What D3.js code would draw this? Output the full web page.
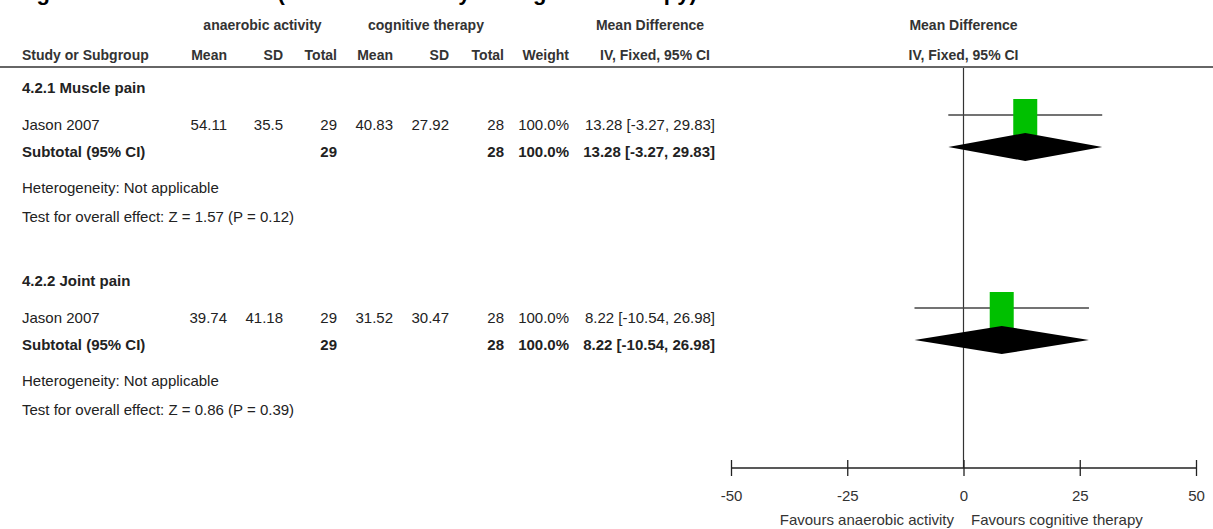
<!DOCTYPE html>
<html>
<head>
<meta charset="utf-8">
<script src="https://cdn.jsdelivr.net/npm/d3@7"></script>
<style>
  html, body { margin: 0; padding: 0; background: #fff; }
  svg { display: block; font-family: "Liberation Sans", Arial, Helvetica, sans-serif; }
</style>
</head>
<body>
<svg id="chart" width="1213" height="529"></svg>
<script>
// ---------------- data ----------------
const titleText = "Figure 4.2 Pain outcome (anaerobic activity vs cognitive therapy)";
const groupLabels = ["anaerobic activity", "cognitive therapy"];
const columnHeaders = ["Study or Subgroup", "Mean", "SD", "Total", "Mean", "SD", "Total", "Weight", "IV, Fixed, 95% CI"];
const subgroups = ["4.2.1 Muscle pain", "4.2.2 Joint pain"];
const studies = ["Jason 2007", "Jason 2007"];
const expMean = [54.11, 39.74];
const expSD = [35.5, 41.18];
const expTotal = [29, 29];
const ctrlMean = [40.83, 31.52];
const ctrlSD = [27.92, 30.47];
const ctrlTotal = [28, 28];
const weights = ["100.0%", "100.0%"];
const meanDiff = [13.28, 8.22];
const ciLow = [-3.27, -10.54];
const ciHigh = [29.83, 26.98];
const zValues = ["1.57", "0.86"];
const pValues = ["0.12", "0.39"];
const axisTicks = [-50, -25, 0, 25, 50];
const favoursLabels = ["Favours anaerobic activity", "Favours cognitive therapy"];

// ---------------- layout ----------------
const W = 1213, H = 529;
const svg = d3.select("#chart");
const x = d3.scaleLinear().domain([-50, 50]).range([731, 1196]);
const txtCol = "#222";
const fs = 15, hfs = 14;
const colRight = [227, 283, 337, 393, 449, 504, 569, 715];
const fmtCI = (m, l, h) => `${m.toFixed(2)} [${l.toFixed(2)}, ${h.toFixed(2)}]`;

function text(x0, yc, s, opts = {}) {
  return svg.append("text")
    .attr("x", x0).attr("y", yc + (opts.size || fs) * 0.35)
    .attr("text-anchor", opts.anchor || "start")
    .attr("font-size", opts.size || fs)
    .attr("font-weight", opts.bold ? "bold" : "normal")
    .attr("fill", opts.color || txtCol)
    .text(s);
}

// title (clipped at top, as in reference)
svg.append("text").attr("x", 17).attr("y", 0)
  .attr("font-size", 22).attr("font-weight", "bold").attr("fill", "#000")
  .text(titleText);

// header row 1
text((188 + 337) / 2, 25, groupLabels[0], { anchor: "middle", bold: true, size: hfs, color: "#333" });
text((348 + 504) / 2, 25, groupLabels[1], { anchor: "middle", bold: true, size: hfs, color: "#333" });
text(650, 25, "Mean Difference", { anchor: "middle", bold: true, size: hfs, color: "#333" });
text(x(0), 25, "Mean Difference", { anchor: "middle", bold: true, size: hfs, color: "#333" });

// header row 2
text(22, 55, columnHeaders[0], { bold: true, size: hfs, color: "#333" });
for (let i = 1; i <= 7; i++) {
  text(colRight[i - 1], 55, columnHeaders[i], { anchor: "end", bold: true, size: hfs, color: "#333" });
}
text(655, 55, columnHeaders[8], { anchor: "middle", bold: true, size: hfs, color: "#333" });
text(x(0), 55, columnHeaders[8], { anchor: "middle", bold: true, size: hfs, color: "#333" });

// header rule
svg.append("line").attr("x1", 0).attr("x2", W).attr("y1", 67).attr("y2", 67)
  .attr("stroke", "#666").attr("stroke-width", 2);

// zero line
const axisY = 468;
svg.append("line").attr("x1", x(0)).attr("x2", x(0)).attr("y1", 68).attr("y2", axisY)
  .attr("stroke", "#333").attr("stroke-width", 1.2);

// groups
const groupTop = [88, 281];
subgroups.forEach((g, i) => {
  const gy = groupTop[i];
  const rowY = gy + 37, subY = gy + 64;
  text(22, gy, g, { bold: true });
  // study row
  text(22, rowY, studies[i]);
  const vals = [expMean[i].toFixed(2), String(expSD[i]), String(expTotal[i]), ctrlMean[i].toFixed(2),
                ctrlSD[i].toFixed(2), String(ctrlTotal[i]), weights[i], fmtCI(meanDiff[i], ciLow[i], ciHigh[i])];
  vals.forEach((v, j) => text(colRight[j], rowY, v, { anchor: "end" }));
  // subtotal row
  text(22, subY, "Subtotal (95% CI)", { bold: true });
  text(colRight[2], subY, String(expTotal[i]), { anchor: "end", bold: true });
  text(colRight[5], subY, String(ctrlTotal[i]), { anchor: "end", bold: true });
  text(colRight[6], subY, weights[i], { anchor: "end", bold: true });
  text(colRight[7], subY, fmtCI(meanDiff[i], ciLow[i], ciHigh[i]), { anchor: "end", bold: true });
  text(22, gy + 100, "Heterogeneity: Not applicable");
  text(22, gy + 129, `Test for overall effect: Z = ${zValues[i]} (P = ${pValues[i]})`);

  // forest marks
  const lineY = gy + 27, dY = gy + 59;
  svg.append("line").attr("x1", x(ciLow[i])).attr("x2", x(ciHigh[i]))
    .attr("y1", lineY).attr("y2", lineY).attr("stroke", "#444").attr("stroke-width", 1.3);
  svg.append("rect").attr("x", x(meanDiff[i]) - 12).attr("y", lineY - 16)
    .attr("width", 24).attr("height", 36).attr("fill", "#00c000");
  const dh = 14;
  svg.append("path")
    .attr("d", `M${x(ciLow[i])},${dY} L${x(meanDiff[i])},${dY - dh} L${x(ciHigh[i])},${dY} L${x(meanDiff[i])},${dY + dh} Z`)
    .attr("fill", "#000");
});

// axis
const axis = d3.axisBottom(x).tickValues(axisTicks).tickSize(8).tickPadding(14).tickFormat(d => String(d));
const ag = svg.append("g").attr("transform", `translate(0,${axisY})`).call(axis);
ag.select(".domain").attr("d", `M${x(-50)},0H${x(50)}`).attr("stroke", "#222").attr("stroke-width", 1.3);
ag.selectAll(".tick line").attr("y1", -8).attr("y2", 8).attr("stroke", "#222").attr("stroke-width", 1.3);
ag.selectAll(".tick text").attr("font-size", fs).attr("fill", "#333")
  .attr("font-family", "Liberation Sans, Arial, sans-serif");

text(954, 520, favoursLabels[0], { anchor: "end", color: "#333" });
text(971, 520, favoursLabels[1], { color: "#333" });
</script>
</body>
</html>
